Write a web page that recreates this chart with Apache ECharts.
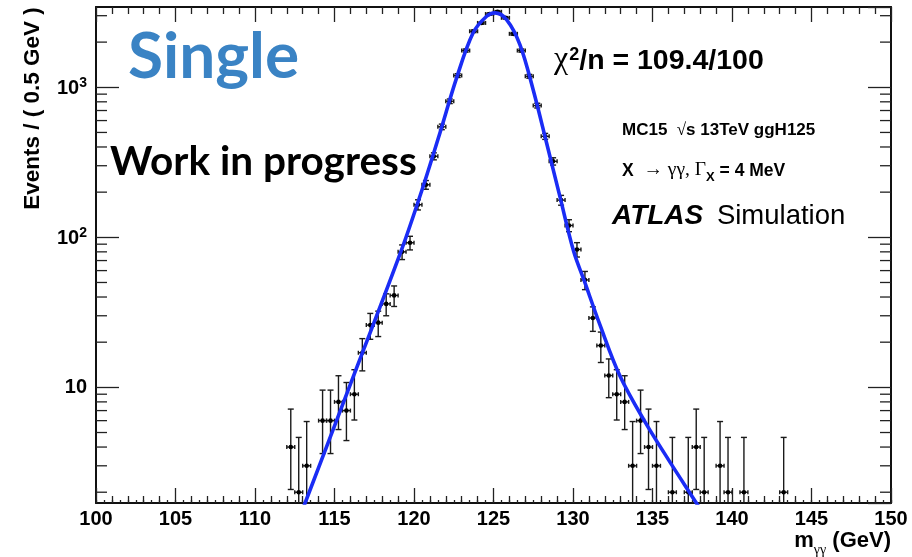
<!DOCTYPE html>
<html>
<head>
<meta charset="utf-8">
<script src="https://cdn.jsdelivr.net/npm/echarts@6/dist/echarts.min.js"></script>
<style>html,body{margin:0;padding:0;background:#fff}#c{width:912px;height:557px}</style>
</head>
<body>
<div id="c"></div>
<script>
// ---- data ----
const binCenters = [112.25,112.75,113.25,114.25,114.75,115.25,115.75,116.25,116.75,117.25,117.75,118.25,118.75,119.25,119.75,
  120.25,120.75,121.25,121.75,122.25,122.75,123.25,123.75,124.25,124.75,125.25,125.75,126.25,126.75,127.25,127.75,128.25,128.75,129.25,129.75,130.25,
  130.75,131.25,131.75,132.25,132.75,133.25,133.75,134.25,134.75,135.25,136.25,137.25,137.75,138.25,139.25,139.75,140.75,143.25];
const counts = [4,2,3,6,6,8,7,9,17,26,27,36,41,80,92,
  165,224,347,545,807,1197,1757,2362,2685,3077,3186,2904,2271,1757,1184,755,471,321,177,120,83,
  52,29,19,12,9,8,3,6,4,3,2,2,4,2,3,2,2,2];
const binHalfWidth = 0.25;
// 68% Poisson intervals for small counts (n = 0..10)
const poissonLow  = [0, 0.173, 0.708, 1.367, 2.086, 2.840, 3.620, 4.419, 5.232, 6.057, 6.891];
const poissonHigh = [1.841, 3.300, 4.638, 5.918, 7.163, 8.382, 9.584, 10.77, 11.95, 13.11, 14.27];
// fitted curve
const fitX = [112.87,113.15,116.17,119.22,120.58,121.63,122.68,123.72,124.57,125.09,125.82,126.66,127.49,128.34,129.17,130.05,130.70,131.69,132.94,134.51,136.08,137.76,138.22];
const fitY = [1.42,1.695,11.7,82.7,219,496,1155,2306,2974,3133,2826,1927,966,425,188,80,51.6,26.2,12.0,5.93,3.2,1.695,1.42];
// axes
const xMin = 100, xMax = 150, xMajor = 5;
const yMin = 1.695, yMax = 3428;
const yMinorTicks = [2,3,4,5,6,7,8,9,20,30,40,50,60,70,80,90,200,300,400,500,600,700,800,900,2000,3000];

const HEL = '"Liberation Sans", Arial, Helvetica, sans-serif';
const SERIF = '"Liberation Serif", "DejaVu Serif", serif';
const LATO = 'Lato, "Noto Sans", sans-serif';

const errData = binCenters.map((x, i) => {
  const n = counts[i];
  let lo, hi;
  if (n <= 10) { lo = poissonLow[n]; hi = poissonHigh[n]; }
  else { lo = n - Math.sqrt(n); hi = n + Math.sqrt(n); }
  return [x, n, lo, hi];
});
const fitData = fitX.map((x, i) => [x, fitY[i]]);

const chart = echarts.init(document.getElementById('c'), null, {renderer: 'canvas'});

function renderErr(params, api) {
  const x = api.value(0), n = api.value(1), lo = api.value(2), hi = api.value(3);
  const c = api.coord([x, n]);
  const pLo = api.coord([x, lo]);
  const pHi = api.coord([x, hi]);
  const xl = api.coord([x - binHalfWidth, n])[0];
  const xr = api.coord([x + binHalfWidth, n])[0];
  const st = {stroke: '#1a1a1a', lineWidth: 1.4};
  const cap = 3;
  return {
    type: 'group',
    children: [
      {type: 'line', shape: {x1: c[0], y1: pLo[1], x2: c[0], y2: pHi[1]}, style: st},
      {type: 'line', shape: {x1: c[0] - cap, y1: pHi[1], x2: c[0] + cap, y2: pHi[1]}, style: st},
      {type: 'line', shape: {x1: c[0] - cap, y1: pLo[1], x2: c[0] + cap, y2: pLo[1]}, style: st},
      {type: 'line', shape: {x1: xl, y1: c[1], x2: xr, y2: c[1]}, style: st},
      {type: 'line', shape: {x1: xl, y1: c[1] - 2, x2: xl, y2: c[1] + 2}, style: st},
      {type: 'line', shape: {x1: xr, y1: c[1] - 2, x2: xr, y2: c[1] + 2}, style: st},
      {type: 'circle', shape: {cx: c[0], cy: c[1], r: 2.3}, style: {fill: '#000'}}
    ]
  };
}

function renderMinorY(params, api) {
  const v = api.value(0);
  const l = api.coord([xMin, v]);
  const r = api.coord([xMax, v]);
  const st = {stroke: '#222', lineWidth: 1.3};
  return {
    type: 'group',
    children: [
      {type: 'line', shape: {x1: l[0], y1: l[1], x2: l[0] + 11, y2: l[1]}, style: st},
      {type: 'line', shape: {x1: r[0], y1: r[1], x2: r[0] - 11, y2: r[1]}, style: st}
    ]
  };
}

const axisLineStyle = {color: '#111', width: 2};
const yLabelFmt = v => {
  const e = Math.round(Math.log10(v));
  if (Math.abs(Math.log10(v) - e) > 1e-6) return '';
  if (e === 1) return '{b|10}';
  if (e >= 2) return '{b|10}{s|' + e + '}';
  return '';
};

const option = {
  animation: false,
  backgroundColor: '#fff',
  grid: {left: 96, right: 21, top: 7, bottom: 54, containLabel: false, outerBoundsMode: 'none'},
  xAxis: [
    {type: 'value', position: 'bottom', min: xMin, max: xMax, interval: xMajor,
      axisLine: {show: true, lineStyle: axisLineStyle, onZero: false},
      axisTick: {show: true, inside: true, length: 15, lineStyle: {color: '#222', width: 1.3}},
      minorTick: {show: true, splitNumber: 5, length: 7, lineStyle: {color: '#222', width: 1.3}},
      axisLabel: {show: true, margin: 6, fontFamily: HEL, fontWeight: 'bold', fontSize: 20, color: '#000'},
      splitLine: {show: false}, minorSplitLine: {show: false}},
    {type: 'value', position: 'top', min: xMin, max: xMax, interval: xMajor,
      axisLine: {show: true, lineStyle: axisLineStyle, onZero: false},
      axisTick: {show: true, inside: true, length: 15, lineStyle: {color: '#222', width: 1.3}},
      minorTick: {show: true, splitNumber: 5, length: 7, lineStyle: {color: '#222', width: 1.3}},
      axisLabel: {show: false}, splitLine: {show: false}},
    {type: 'value', position: 'bottom', min: xMin, max: xMax, interval: 0.5,
      axisLine: {show: false, onZero: false},
      axisTick: {show: true, inside: true, length: 3, lineStyle: {color: '#222', width: 1.3}},
      axisLabel: {show: false}, splitLine: {show: false}}
  ],
  yAxis: [
    {type: 'log', position: 'left', min: yMin, max: yMax, logBase: 10,
      axisLine: {show: true, lineStyle: axisLineStyle, onZero: false},
      axisTick: {show: true, inside: true, length: 23, lineStyle: {color: '#222', width: 1.3}},
      axisLabel: {show: true, margin: 9, formatter: yLabelFmt, showMinLabel: false, showMaxLabel: false,
        rich: {
          b: {fontFamily: HEL, fontWeight: 'bold', fontSize: 20, color: '#000', verticalAlign: 'bottom'},
          s: {fontFamily: HEL, fontWeight: 'bold', fontSize: 14, color: '#000', verticalAlign: 'bottom', padding: [0, 0, 9, 0]}
        }},
      splitLine: {show: false}},
    {type: 'log', position: 'right', min: yMin, max: yMax, logBase: 10,
      axisLine: {show: true, lineStyle: axisLineStyle, onZero: false},
      axisTick: {show: true, inside: true, length: 23, lineStyle: {color: '#222', width: 1.3}},
      axisLabel: {show: false}, splitLine: {show: false}}
  ],
  series: [
    {type: 'custom', name: 'minorY', xAxisIndex: 0, yAxisIndex: 0, renderItem: renderMinorY,
      data: yMinorTicks.map(v => [v]), encode: {y: 0}, clip: false, silent: true, z: 3},
    {type: 'custom', name: 'data', xAxisIndex: 0, yAxisIndex: 0, renderItem: renderErr,
      data: errData, encode: {x: 0, y: 1}, clip: true, z: 4},
    {type: 'line', name: 'fit', xAxisIndex: 0, yAxisIndex: 0, data: fitData, smooth: 0.35,
      showSymbol: false, clip: true, lineStyle: {color: '#1a2cf5', width: 3.6}, z: 5}
  ],
  graphic: [
    {type: 'text', x: 128, y: 57.5, style: {text: 'Single', font: 'bold 64px ' + LATO, fill: '#3a83c4', align: 'left', verticalAlign: 'middle'}},
    {type: 'text', x: 110, y: 161.5, style: {text: 'Work in progress', font: 'bold 40.5px ' + LATO, fill: '#000', align: 'left', verticalAlign: 'middle'}},
    {type: 'text', x: 554, y: 75.5, style: {
      text: '{c|χ}{sup|2}{b|/n = 109.4/100}', align: 'left', verticalAlign: 'bottom',
      rich: {
        c: {fontFamily: SERIF, fontSize: 32, fill: '#000', verticalAlign: 'bottom'},
        sup: {fontFamily: HEL, fontWeight: 'bold', fontSize: 18, fill: '#000', verticalAlign: 'bottom', padding: [0, 0, 11, 1]},
        b: {fontFamily: HEL, fontWeight: 'bold', fontSize: 28.5, fill: '#000', verticalAlign: 'bottom'}
      }}},
    {type: 'text', x: 622, y: 139, style: {
      text: '{b|MC15  }{r|√}{b|s 13TeV ggH125}', align: 'left', verticalAlign: 'bottom',
      rich: {
        b: {fontFamily: HEL, fontWeight: 'bold', fontSize: 17, fill: '#000', verticalAlign: 'bottom'},
        r: {fontFamily: SERIF, fontSize: 17, fill: '#000', verticalAlign: 'bottom'}
      }}},
    {type: 'text', x: 622, y: 184, style: {
      text: '{b|X }{s| → γγ, Γ}{sub|X}{b| = 4 MeV}', align: 'left', verticalAlign: 'bottom',
      rich: {
        b: {fontFamily: HEL, fontWeight: 'bold', fontSize: 17.5, fill: '#000', verticalAlign: 'bottom', padding: [0, 0, 4, 0]},
        s: {fontFamily: SERIF, fontSize: 19.5, fill: '#000', verticalAlign: 'bottom', padding: [0, 0, 4, 0]},
        sub: {fontFamily: HEL, fontWeight: 'bold', fontSize: 13, fill: '#000', verticalAlign: 'bottom'}
      }}},
    {type: 'text', x: 612, y: 230, style: {
      text: '{a|ATLAS}{s| Simulation}', align: 'left', verticalAlign: 'bottom',
      rich: {
        a: {fontFamily: HEL, fontWeight: 'bold', fontStyle: 'italic', fontSize: 28, fill: '#000', verticalAlign: 'bottom', padding: [0, 6, 0, 0]},
        s: {fontFamily: HEL, fontSize: 27.5, fill: '#000', verticalAlign: 'bottom'}
      }}},
    {type: 'text', x: 33, y: 108.5, rotation: Math.PI / 2, style: {
      text: 'Events / ( 0.5 GeV )', font: 'bold 22.5px ' + HEL, fill: '#000', align: 'center', verticalAlign: 'middle'}},
    {type: 'text', x: 891, y: 557, style: {
      text: '{m|m}{sub|γγ}{b| (GeV)}', align: 'right', verticalAlign: 'bottom',
      rich: {
        m: {fontFamily: HEL, fontWeight: 'bold', fontSize: 22, fill: '#000', verticalAlign: 'bottom', padding: [0, 0, 5, 0]},
        sub: {fontFamily: SERIF, fontSize: 14, fill: '#000', verticalAlign: 'bottom'},
        b: {fontFamily: HEL, fontWeight: 'bold', fontSize: 22, fill: '#000', verticalAlign: 'bottom', padding: [0, 0, 5, 0]}
      }}}
  ]
};
chart.setOption(option);
</script>
</body>
</html>
